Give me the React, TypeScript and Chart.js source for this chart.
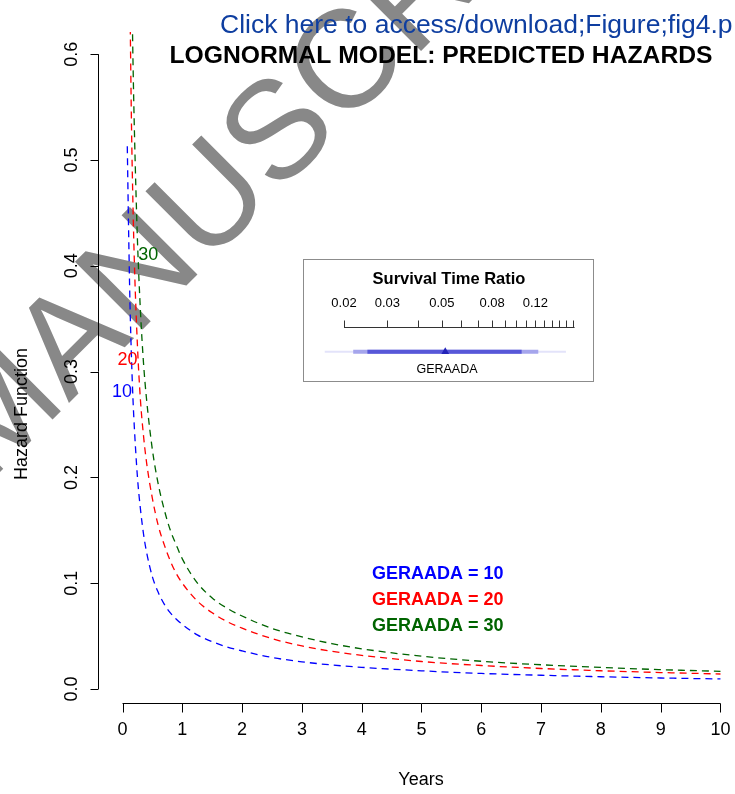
import React, { useEffect, useRef } from "react";
import { Chart, registerables } from "chart.js";

Chart.register(...registerables);

// ---------------- data ----------------
const years = [0.08, 0.1, 0.125, 0.15, 0.175, 0.2, 0.25, 0.3, 0.35, 0.4, 0.5, 0.6, 0.7, 0.8, 0.9, 1.0, 1.25, 1.5, 1.75, 2, 2.5, 3, 3.5, 4, 5, 6, 7, 8, 9, 10];
const hazard10 = [0.513, 0.44, 0.364, 0.313, 0.274, 0.245, 0.2, 0.17, 0.147, 0.13, 0.106, 0.091, 0.08, 0.072, 0.066, 0.061, 0.0512, 0.0447, 0.0397, 0.036, 0.0298, 0.0257, 0.0227, 0.0205, 0.0172, 0.0147, 0.013, 0.0116, 0.0104, 0.0095];
const hazard20 = [null, null, 0.648, 0.533, 0.457, 0.4, 0.324, 0.273, 0.24, 0.215, 0.18, 0.154, 0.136, 0.121, 0.109, 0.1, 0.0832, 0.072, 0.0637, 0.0575, 0.0476, 0.0407, 0.0356, 0.0318, 0.026, 0.0222, 0.0194, 0.01725, 0.01556, 0.0142];
const hazard30 = [null, null, null, 0.687, 0.594, 0.525, 0.424, 0.357, 0.309, 0.275, 0.226, 0.193, 0.169, 0.15, 0.136, 0.123, 0.1004, 0.086, 0.0763, 0.069, 0.0572, 0.0493, 0.0429, 0.038, 0.031, 0.0262, 0.0229, 0.0204, 0.0183, 0.0167];

const xTicks = [0, 1, 2, 3, 4, 5, 6, 7, 8, 9, 10];
const yTicks = [0, 0.1, 0.2, 0.3, 0.4, 0.5, 0.6];
const yTickLabels = ["0.0", "0.1", "0.2", "0.3", "0.4", "0.5", "0.6"];

const legendLabels = ["GERAADA = 10", "GERAADA = 20", "GERAADA = 30"];
const curveLabels = ["10", "20", "30"];
// where each curve's label sits (data coordinates: years, hazard)
const curveLabelX = [-0.01, 0.085, 0.43];
const curveLabelY = [0.281, 0.311, 0.410];

// inset: survival time ratio
const ratioPoint = 0.0516;
const ratioInner = [0.0249, 0.1055];
const ratioMiddle = [0.0218, 0.1233];
const ratioOuter = [0.0167, 0.1597];
const ratioTicks = [0.02, 0.03, 0.04, 0.05, 0.06, 0.07, 0.08, 0.09, 0.1, 0.11, 0.12, 0.13, 0.14, 0.15, 0.16, 0.17];
const ratioTickLabels = [0.02, 0.03, 0.05, 0.08, 0.12];

const COLORS = ["#0000ff", "#ff0000", "#006400"];
const FONT = "'Liberation Sans', Arial, Helvetica, sans-serif";

const toPts = (vals: (number | null)[]) =>
  years.map((x, i) => ({ x, y: vals[i] })).filter((p) => p.y !== null) as { x: number; y: number }[];

export default function App() {
  const mainRef = useRef<HTMLCanvasElement | null>(null);
  const insetRef = useRef<HTMLCanvasElement | null>(null);

  useEffect(() => {
    if (!mainRef.current || !insetRef.current) return;

    const decor = {
      id: "rDecor",
      beforeDraw(chart: any) {
        const ctx = chart.ctx;
        ctx.save();
        ctx.fillStyle = "#ffffff";
        ctx.fillRect(0, 0, chart.width, chart.height);
        ctx.restore();
      },
      beforeDatasetsDraw(chart: any) {
        const ctx = chart.ctx;
        ctx.save();
        ctx.translate(-13, 485);
        ctx.rotate((-45 * Math.PI) / 180);
        ctx.fillStyle = "#888888";
        ctx.font = `139px ${FONT}`;
        ctx.textAlign = "left";
        ctx.textBaseline = "alphabetic";
        ctx.fillText("MANUSCRIPT", 0, 0);
        ctx.restore();
      },
      afterDraw(chart: any) {
        const ctx = chart.ctx;
        const xs = chart.scales.x;
        const ys = chart.scales.y;
        const area = chart.chartArea;
        ctx.save();
        ctx.strokeStyle = "#000";
        ctx.fillStyle = "#000";
        ctx.lineWidth = 1;
        ctx.setLineDash([]);

        // y axis
        const ax = Math.round(area.left) + 0.5;
        ctx.beginPath();
        ctx.moveTo(ax, ys.getPixelForValue(yTicks[0]));
        ctx.lineTo(ax, ys.getPixelForValue(yTicks[yTicks.length - 1]));
        yTicks.forEach((v) => {
          const y = Math.round(ys.getPixelForValue(v)) + 0.5;
          ctx.moveTo(ax, y);
          ctx.lineTo(ax - 8, y);
        });
        ctx.stroke();
        ctx.font = `18px ${FONT}`;
        ctx.textAlign = "center";
        ctx.textBaseline = "middle";
        yTicks.forEach((v, i) => {
          const y = ys.getPixelForValue(v);
          ctx.save();
          ctx.translate(72, y);
          ctx.rotate(-Math.PI / 2);
          ctx.fillText(yTickLabels[i], 0, 0);
          ctx.restore();
        });

        // x axis
        const ay = Math.round(area.bottom) + 0.5;
        ctx.beginPath();
        ctx.moveTo(xs.getPixelForValue(xTicks[0]), ay);
        ctx.lineTo(xs.getPixelForValue(xTicks[xTicks.length - 1]), ay);
        xTicks.forEach((v) => {
          const x = Math.round(xs.getPixelForValue(v)) + 0.5;
          ctx.moveTo(x, ay);
          ctx.lineTo(x, ay + 9);
        });
        ctx.stroke();
        xTicks.forEach((v) => {
          ctx.fillText(String(v), xs.getPixelForValue(v), 730);
        });

        // axis titles
        ctx.fillText("Years", 421, 780);
        ctx.save();
        ctx.translate(22, 414);
        ctx.rotate(-Math.PI / 2);
        ctx.fillText("Hazard Function", 0, 0);
        ctx.restore();

        // curve labels
        curveLabels.forEach((t, i) => {
          ctx.fillStyle = COLORS[i];
          ctx.fillText(t, xs.getPixelForValue(curveLabelX[i]), ys.getPixelForValue(curveLabelY[i]));
        });

        // legend text
        ctx.font = `bold 18px ${FONT}`;
        ctx.textAlign = "left";
        legendLabels.forEach((t, i) => {
          ctx.fillStyle = COLORS[i];
          ctx.fillText(t, 372, 574 + i * 26);
        });

        // title
        ctx.fillStyle = "#000";
        ctx.font = `bold 24.7px ${FONT}`;
        ctx.textAlign = "center";
        ctx.textBaseline = "alphabetic";
        ctx.fillText("LOGNORMAL MODEL: PREDICTED HAZARDS", 441, 63);

        // link text
        ctx.fillStyle = "rgb(14,62,160)";
        ctx.font = `26.5px ${FONT}`;
        ctx.textAlign = "left";
        ctx.fillText("Click here to access/download;Figure;fig4.p", 220, 33);
        ctx.restore();
      },
    };

    const main = new Chart(mainRef.current, {
      type: "line",
      data: {
        datasets: [hazard10, hazard20, hazard30].map((vals, i) => ({
          label: legendLabels[i],
          data: toPts(vals),
          borderColor: COLORS[i],
          backgroundColor: COLORS[i],
          borderWidth: 1.3,
          borderDash: [7, 5],
          pointRadius: 0,
          fill: false,
          cubicInterpolationMode: "monotone" as const,
        })),
      },
      options: {
        responsive: false,
        animation: false,
        devicePixelRatio: 1,
        layout: { padding: { left: 98, right: 0, top: 32, bottom: 91 } },
        plugins: { legend: { display: false }, tooltip: { enabled: false }, title: { display: false } },
        scales: {
          x: { type: "linear", min: -0.41, max: 10.243, display: false },
          y: { type: "linear", min: -0.01323, max: 0.621, display: false },
        },
      },
      plugins: [decor],
    });

    const insetDecor = {
      id: "insetDecor",
      beforeDraw(chart: any) {
        const ctx = chart.ctx;
        ctx.save();
        ctx.fillStyle = "#fff";
        ctx.fillRect(0, 0, chart.width, chart.height);
        ctx.strokeStyle = "#8c8c8c";
        ctx.lineWidth = 1;
        ctx.strokeRect(0.5, 0.5, chart.width - 1, chart.height - 1);
        ctx.restore();
      },
      afterDraw(chart: any) {
        const ctx = chart.ctx;
        const xs = chart.scales.x;
        const area = chart.chartArea;
        ctx.save();
        ctx.fillStyle = "#000";
        ctx.strokeStyle = "#333";
        ctx.lineWidth = 1;
        ctx.textAlign = "center";
        ctx.textBaseline = "middle";
        ctx.font = `bold 16.5px ${FONT}`;
        ctx.fillText("Survival Time Ratio", 146, 20);
        const ay = Math.round(area.top) + 0.5;
        ctx.beginPath();
        ctx.moveTo(xs.getPixelForValue(ratioTicks[0]), ay);
        ctx.lineTo(xs.getPixelForValue(ratioTicks[ratioTicks.length - 1]) + 2, ay);
        ratioTicks.forEach((v) => {
          const x = Math.round(xs.getPixelForValue(v)) + 0.5;
          ctx.moveTo(x, ay);
          ctx.lineTo(x, ay - 7);
        });
        ctx.stroke();
        ctx.font = `13px ${FONT}`;
        ratioTickLabels.forEach((v) => {
          ctx.fillText(String(v), xs.getPixelForValue(v), 44);
        });
        ctx.font = `12.5px ${FONT}`;
        ctx.fillText("GERAADA", 144, 110.5);
        ctx.restore();
      },
    };

    const seg = (r: number[]) => [
      { x: r[0], y: 0 },
      { x: r[1], y: 0 },
    ];
    // Chart.js draws lower-index datasets on top: point first, outer interval last
    const inset = new Chart(insetRef.current, {
      type: "scatter",
      data: {
        datasets: [
          {
            data: [{ x: ratioPoint, y: 0 }],
            pointStyle: "triangle",
            pointRadius: 4.5,
            backgroundColor: "#2323b8",
            borderColor: "#2323b8",
            borderWidth: 0,
            clip: false as any,
          },
          { data: seg(ratioInner), showLine: true, borderColor: "#5757d8", borderWidth: 4, pointRadius: 0, clip: false as any },
          { data: seg(ratioMiddle), showLine: true, borderColor: "#a5a5ec", borderWidth: 4, pointRadius: 0, clip: false as any },
          { data: seg(ratioOuter), showLine: true, borderColor: "#e3e3fa", borderWidth: 2, pointRadius: 0, clip: false as any },
        ],
      },
      options: {
        responsive: false,
        animation: false,
        devicePixelRatio: 1,
        layout: { padding: { left: 41, right: 21.4, top: 68, bottom: 5.6 } },
        plugins: { legend: { display: false }, tooltip: { enabled: false } },
        scales: {
          x: { type: "logarithmic", min: 0.02, max: 0.17, display: false },
          y: { type: "linear", min: -1, max: 1, display: false },
        },
      },
      plugins: [insetDecor],
    });

    return () => {
      main.destroy();
      inset.destroy();
    };
  }, []);

  return (
    <div style={{ position: "absolute", left: 0, top: 0, width: 735, height: 794, background: "#fff" }}>
      <canvas ref={mainRef} width={735} height={794} style={{ display: "block", width: 735, height: 794 }} />
      <canvas
        ref={insetRef}
        width={291}
        height={123}
        style={{ position: "absolute", left: 303, top: 259, width: 291, height: 123 }}
      />
    </div>
  );
}
